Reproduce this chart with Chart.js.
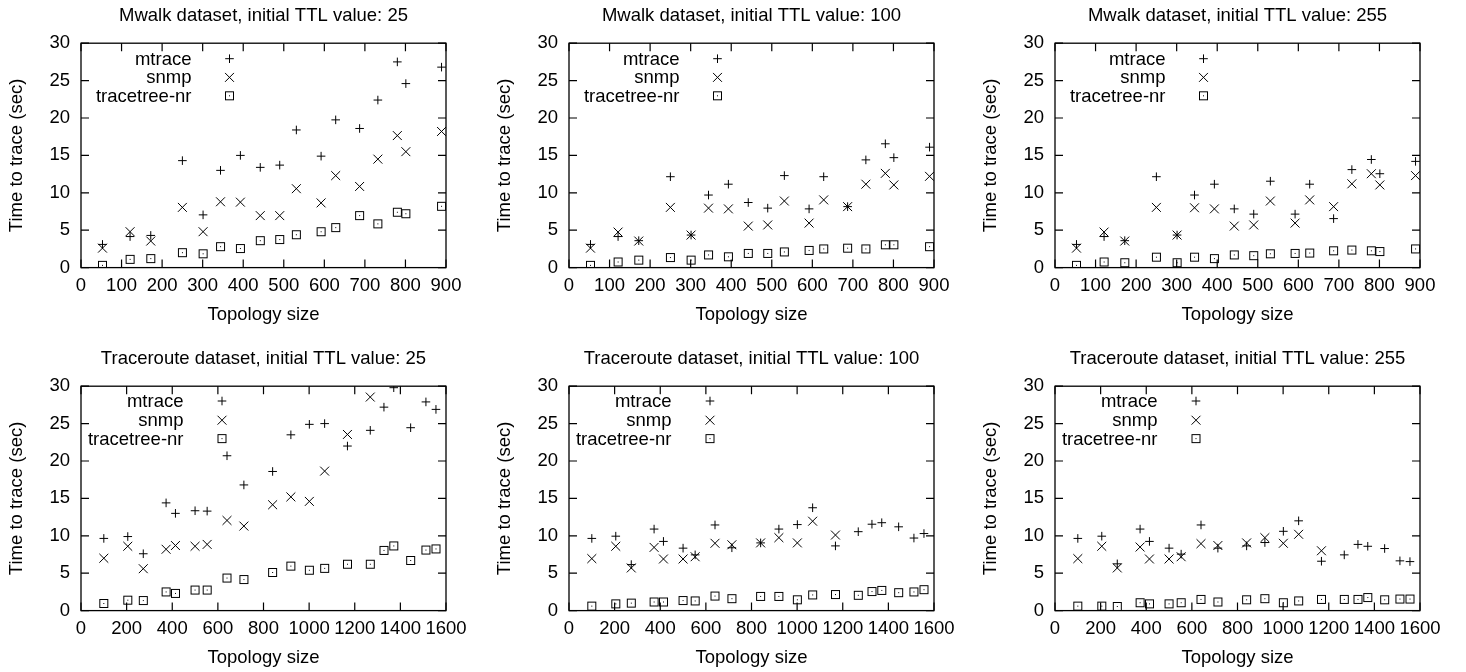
<!DOCTYPE html>
<html><head><meta charset="utf-8">
<script src="https://cdn.jsdelivr.net/npm/chart.js@4.4.1/dist/chart.umd.min.js"></script>
<style>
html,body{margin:0;padding:0;background:#fff;}
body{width:1466px;height:672px;position:relative;overflow:hidden;}
canvas{position:absolute;}
</style></head><body>
<canvas id="c0"></canvas><canvas id="c1"></canvas><canvas id="c2"></canvas>
<canvas id="c3"></canvas><canvas id="c4"></canvas><canvas id="c5"></canvas>
<script>
// ---------------- DATA ----------------
const seriesNames = ['mtrace', 'snmp', 'tracetree-nr'];
const xAxisTitle = 'Topology size';
const yAxisTitle = 'Time to trace (sec)';

const mwalkSizes = [53, 121, 172, 250, 301, 344, 393, 442, 490, 531, 592, 628, 687, 732, 780, 801, 889];
const tracerouteSizes = [100, 205, 273, 373, 414, 500, 553, 640, 714, 840, 920, 1001, 1068, 1168, 1268, 1328, 1371, 1445, 1512, 1556];

const mwalk25Mtrace    = [3.1, 4.15, 4.3, 14.3, 7.05, 13.0, 15.0, 13.4, 13.7, 18.4, 14.9, 19.75, 18.6, 22.4, 27.5, 24.6, 26.8];
const mwalk25Snmp      = [2.6, 4.8, 3.55, 8.05, 4.8, 8.8, 8.75, 6.95, 6.95, 10.55, 8.65, 12.3, 10.85, 14.5, 17.65, 15.5, 18.2];
const mwalk25Tracetree = [0.3, 1.1, 1.2, 2.0, 1.85, 2.8, 2.55, 3.6, 3.75, 4.4, 4.8, 5.35, 6.95, 5.85, 7.4, 7.2, 8.2];

const mwalk100Mtrace    = [3.1, 4.15, 3.6, 12.15, 4.35, 9.7, 11.15, 8.7, 7.95, 12.3, 7.85, 12.15, 8.15, 14.4, 16.55, 14.7, 16.1];
const mwalk100Snmp      = [2.6, 4.75, 3.55, 8.05, 4.35, 7.95, 7.85, 5.55, 5.7, 8.9, 5.95, 9.05, 8.15, 11.15, 12.6, 11.05, 12.2];
const mwalk100Tracetree = [0.3, 0.75, 1.0, 1.35, 1.0, 1.7, 1.45, 1.9, 1.9, 2.1, 2.3, 2.5, 2.6, 2.5, 3.05, 3.05, 2.8];

const mwalk255Mtrace    = [3.1, 4.15, 3.6, 12.15, 4.35, 9.7, 11.15, 7.85, 7.15, 11.55, 7.15, 11.15, 6.55, 13.1, 14.45, 12.55, 14.2];
const mwalk255Snmp      = [2.6, 4.75, 3.55, 8.05, 4.35, 8.0, 7.85, 5.55, 5.7, 8.9, 5.95, 9.05, 8.15, 11.2, 12.55, 11.05, 12.3];
const mwalk255Tracetree = [0.3, 0.75, 0.65, 1.4, 0.65, 1.4, 1.2, 1.7, 1.6, 1.85, 1.9, 1.95, 2.25, 2.35, 2.25, 2.15, 2.5];

const trace25Mtrace    = [9.65, 9.9, 7.6, 14.4, 13.0, 13.35, 13.3, 20.7, 16.8, 18.6, 23.5, 24.9, 25.0, 22.0, 24.1, 27.2, 29.8, 24.45, 27.9, 26.9];
const trace25Snmp      = [7.0, 8.6, 5.6, 8.2, 8.7, 8.6, 8.85, 12.05, 11.3, 14.15, 15.2, 14.6, 18.65, 23.55, 28.55, null, null, null, null, null];
const trace25Tracetree = [0.95, 1.4, 1.35, 2.5, 2.3, 2.75, 2.75, 4.35, 4.15, 5.1, 5.95, 5.4, 5.65, 6.2, 6.2, 8.05, 8.65, 6.7, 8.1, 8.25];

const trace100Mtrace    = [9.65, 9.95, 6.15, 10.9, 9.25, 8.35, 7.45, 11.45, 8.4, 9.05, 10.9, 11.5, 13.75, 8.65, 10.55, 11.55, 11.75, 11.2, 9.7, 10.3];
const trace100Snmp      = [6.95, 8.6, 5.7, 8.45, 6.9, 6.9, 7.2, 9.0, 8.8, 9.05, 9.75, 9.05, 11.95, 10.1, null, null, null, null, null, null];
const trace100Tracetree = [0.6, 0.9, 1.0, 1.15, 1.15, 1.35, 1.3, 1.95, 1.6, 1.9, 1.9, 1.45, 2.1, 2.15, 2.05, 2.55, 2.7, 2.4, 2.5, 2.8];

const trace255Mtrace    = [9.65, 9.95, 6.25, 10.9, 9.25, 8.35, 7.55, 11.45, 8.35, 8.65, 9.1, 10.6, 12.0, 6.6, 7.45, 8.85, 8.6, 8.3, 6.65, 6.55];
const trace255Snmp      = [6.95, 8.6, 5.7, 8.5, 6.9, 6.9, 7.2, 8.95, 8.7, 9.05, 9.75, 9.0, 10.2, 8.0, null, null, null, null, null, null];
const trace255Tracetree = [0.6, 0.6, 0.55, 1.05, 0.9, 0.9, 1.05, 1.5, 1.15, 1.45, 1.6, 1.05, 1.3, 1.5, 1.5, 1.5, 1.75, 1.45, 1.55, 1.55];

const panelTitles = [
  'Mwalk dataset, initial TTL value: 25',
  'Mwalk dataset, initial TTL value: 100',
  'Mwalk dataset, initial TTL value: 255',
  'Traceroute dataset, initial TTL value: 25',
  'Traceroute dataset, initial TTL value: 100',
  'Traceroute dataset, initial TTL value: 255'
];
const mwalkXTicks = {min: 0, max: 900, step: 100};
const traceXTicks = {min: 0, max: 1600, step: 200};
const yTicks = {min: 0, max: 30, step: 5};

// ---------------- RENDERING ----------------
const FONT = '"Liberation Sans", Arial, Helvetica, sans-serif';
const FS = 18.5;
Chart.defaults.font.family = FONT;
Chart.defaults.font.size = FS;
Chart.defaults.color = '#000';

// square-with-centre-dot marker
const sq = document.createElement('canvas');
sq.width = 11; sq.height = 11;
(function(){
  const g = sq.getContext('2d');
  g.strokeStyle = '#000'; g.lineWidth = 1;
  g.strokeRect(1.5, 1.5, 8, 8);
  g.fillStyle = '#000'; g.fillRect(5, 5, 1, 1);
})();

const markerStyles = [
  {pointStyle: 'cross', pointRadius: 4.3},
  {pointStyle: 'crossRot', pointRadius: 6.3},
  {pointStyle: sq, pointRadius: 5}
];

const panels = [
  {title: panelTitles[0], sizes: mwalkSizes, xt: mwalkXTicks, series: [mwalk25Mtrace, mwalk25Snmp, mwalk25Tracetree]},
  {title: panelTitles[1], sizes: mwalkSizes, xt: mwalkXTicks, series: [mwalk100Mtrace, mwalk100Snmp, mwalk100Tracetree]},
  {title: panelTitles[2], sizes: mwalkSizes, xt: mwalkXTicks, series: [mwalk255Mtrace, mwalk255Snmp, mwalk255Tracetree]},
  {title: panelTitles[3], sizes: tracerouteSizes, xt: traceXTicks, series: [trace25Mtrace, trace25Snmp, trace25Tracetree]},
  {title: panelTitles[4], sizes: tracerouteSizes, xt: traceXTicks, series: [trace100Mtrace, trace100Snmp, trace100Tracetree]},
  {title: panelTitles[5], sizes: tracerouteSizes, xt: traceXTicks, series: [trace255Mtrace, trace255Snmp, trace255Tracetree]}
];

const colLefts = [0, 488, 974];
const rowTops = [0, 343];
const CW = 476, CH = 326;
const TICK = 8;

// frame + inward mirrored ticks + key
const framePlugin = {
  id: 'gnuframe',
  afterDraw(chart, args, opts) {
    const ctx = chart.ctx;
    const a = chart.chartArea;
    const xs = chart.scales.x, ys = chart.scales.y;
    ctx.save();
    ctx.strokeStyle = '#000';
    ctx.lineWidth = 1.2;
    ctx.beginPath();
    xs.ticks.forEach(t => {
      const px = xs.getPixelForValue(t.value);
      ctx.moveTo(px, a.bottom); ctx.lineTo(px, a.bottom - TICK);
      ctx.moveTo(px, a.top); ctx.lineTo(px, a.top + TICK);
    });
    ys.ticks.forEach(t => {
      const py = ys.getPixelForValue(t.value);
      ctx.moveTo(a.left, py); ctx.lineTo(a.left + TICK, py);
      ctx.moveTo(a.right, py); ctx.lineTo(a.right - TICK, py);
    });
    ctx.stroke();
    ctx.lineWidth = 1.3;
    ctx.strokeRect(a.left, a.top, a.right - a.left, a.bottom - a.top);

    // key
    const k = opts.key;
    ctx.font = FS + 'px ' + FONT;
    ctx.fillStyle = '#000';
    ctx.textAlign = 'right';
    ctx.textBaseline = 'middle';
    chart.data.datasets.forEach((ds, i) => {
      const y = a.top + k.rows[i];
      ctx.fillText(ds.label, a.left + k.labelRight, y + 1);
      const sx = a.left + k.symX;
      ctx.lineWidth = 1;
      ctx.beginPath();
      if (i === 0) {
        const r = 4.3;
        ctx.moveTo(sx - r, y); ctx.lineTo(sx + r, y);
        ctx.moveTo(sx, y - r); ctx.lineTo(sx, y + r);
        ctx.stroke();
      } else if (i === 1) {
        const r = 4.45;
        ctx.moveTo(sx - r, y - r); ctx.lineTo(sx + r, y + r);
        ctx.moveTo(sx - r, y + r); ctx.lineTo(sx + r, y - r);
        ctx.stroke();
      } else {
        ctx.drawImage(sq, sx - sq.width / 2, y - sq.height / 2);
      }
    });
    ctx.restore();
  }
};

panels.forEach((p, idx) => {
  const cv = document.getElementById('c' + idx);
  const col = idx % 3, row = Math.floor(idx / 3);
  cv.width = CW; cv.height = CH;
  cv.style.width = CW + 'px'; cv.style.height = CH + 'px';
  cv.style.left = colLefts[col] + 'px';
  cv.style.top = rowTops[row] + 'px';

  const datasets = p.series.map((vals, si) => ({
    label: seriesNames[si],
    data: p.sizes.map((x, i) => ({x: x, y: vals[i]})).filter(d => d.y !== null),
    pointStyle: markerStyles[si].pointStyle,
    pointRadius: markerStyles[si].pointRadius,
    pointHoverRadius: markerStyles[si].pointRadius,
    pointBorderWidth: 1,
    pointBorderColor: '#000',
    pointBackgroundColor: 'rgba(0,0,0,0)',
    showLine: false
  }));

  const key = row === 0
    ? {labelRight: 110.5, symX: 148.5, rows: [15.5, 34.2, 52.6]}
    : {labelRight: 102.5, symX: 141, rows: [14.8, 34, 52.4]};

  new Chart(cv, {
    type: 'scatter',
    data: {datasets},
    options: {
      responsive: false,
      animation: false,
      devicePixelRatio: 1,
      layout: {padding: {left: 0, right: 30, top: 0, bottom: 0}},
      plugins: {
        legend: {display: false},
        tooltip: {enabled: false},
        title: {
          display: true, text: p.title, fullSize: false,
          color: '#000',
          font: {family: FONT, size: FS, weight: 'normal', lineHeight: 1.2},
          padding: {top: 5, bottom: 16}
        },
        gnuframe: {key}
      },
      scales: {
        x: {
          type: 'linear', min: p.xt.min, max: p.xt.max,
          afterFit(s) { s.height = 58.4; },
          grid: {display: false, drawTicks: false},
          border: {display: false},
          ticks: {
            stepSize: p.xt.step, padding: 7.4, color: '#000', maxRotation: 0,
            font: {family: FONT, size: FS, lineHeight: 1.2},
            callback: v => String(v)
          },
          title: {display: true, text: xAxisTitle, color: '#000',
            font: {family: FONT, size: FS, lineHeight: 1.2}, padding: {top: 0, bottom: 0}}
        },
        y: {
          type: 'linear', min: yTicks.min, max: yTicks.max,
          afterFit(s) { s.width = 81; },
          grid: {display: false, drawTicks: false},
          border: {display: false},
          ticks: {
            stepSize: yTicks.step, padding: 11, color: '#000',
            font: {family: FONT, size: FS, lineHeight: 1.2},
            callback: v => String(v)
          },
          title: {display: true, text: yAxisTitle, color: '#000',
            font: {family: FONT, size: FS, lineHeight: 1.2}, padding: {top: 5.6, bottom: 0}}
        }
      }
    },
    plugins: [framePlugin]
  });
});
</script>
</body></html>
